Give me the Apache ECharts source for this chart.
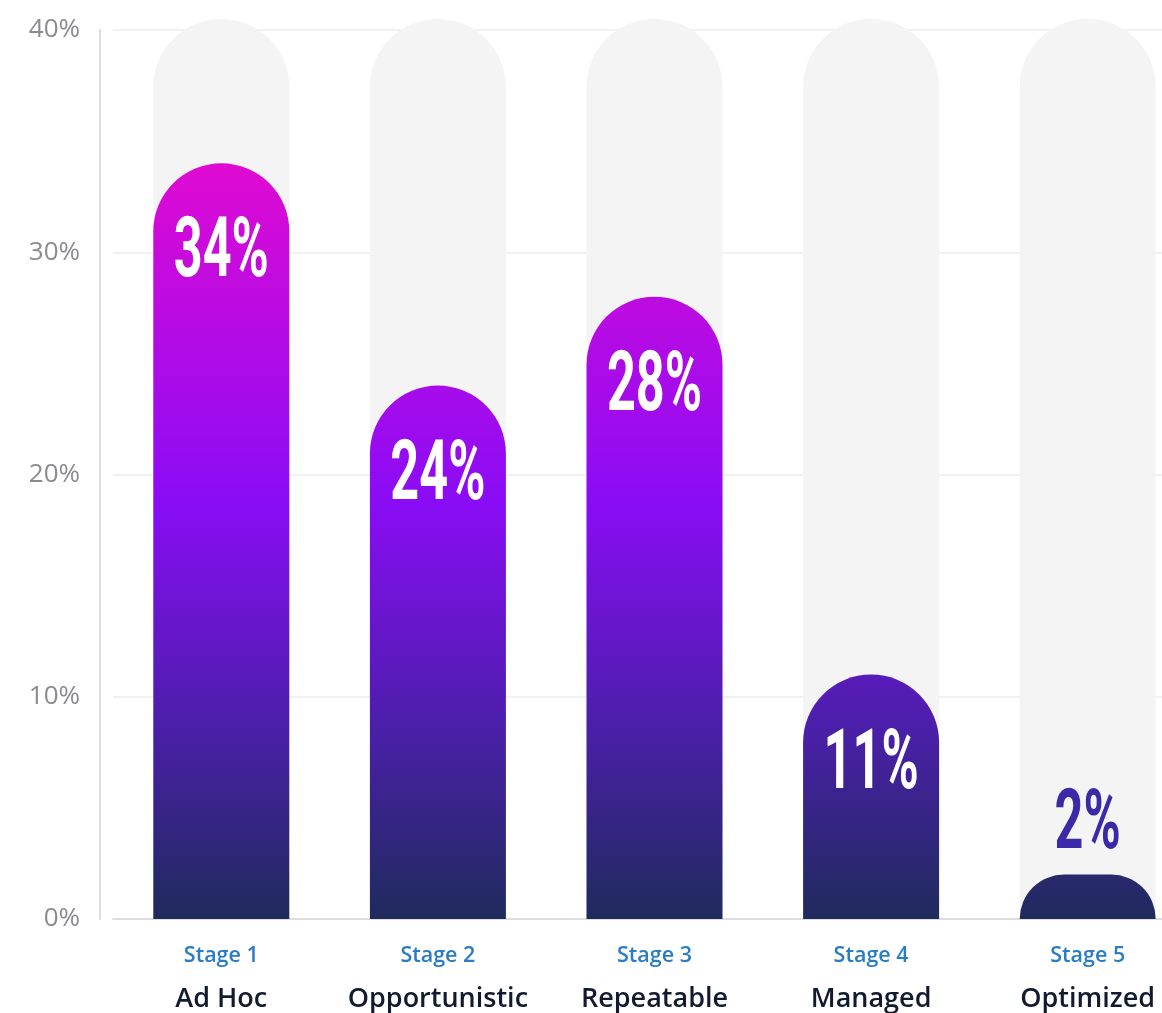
<!DOCTYPE html>
<html>
<head>
<meta charset="utf-8">
<script src="https://cdn.jsdelivr.net/npm/echarts@6/dist/echarts.min.js"></script>
<style>
    html, body { margin: 0; padding: 0; background: #ffffff; }
    #chart-container { width: 1162px; height: 1013px; }
</style>
</head>
<body>
<div id="chart-container"></div>
<script>
const stages = ["Stage 1", "Stage 2", "Stage 3", "Stage 4", "Stage 5"];
const stageNames = ["Ad Hoc", "Opportunistic", "Repeatable", "Managed", "Optimized"];
const shares = [34, 24, 28, 11, 2];
const trackValues = [40.5, 40.5, 40.5, 40.5, 40.5];
const yTicks = [0, 10, 20, 30, 40];

const chart = echarts.init(document.getElementById("chart-container"));

const barColor = new echarts.graphic.LinearGradient(0, 160, 0, 919, [
    { offset: 0, color: "#e00ad2" },
    { offset: 0.45, color: "#8a0cf5" },
    { offset: 0.75, color: "#4a1fa8" },
    { offset: 1, color: "#1f2b5c" }
], true);

// condensed value labels: a normal bold face squeezed horizontally
function renderValueLabel(params, api) {
    const v = api.value(1);
    const top = api.coord([api.value(0), v]);
    const outside = v < 5;
    return {
        type: "text",
        x: top[0],
        y: top[1] + (outside ? -48 : 92),
        scaleX: 0.6,
        style: {
            text: v + "%",
            fill: outside ? "#3a2aa8" : "#ffffff",
            font: "bold 84px Roboto",
            align: "center",
            verticalAlign: "middle"
        }
    };
}

chart.setOption({
    animation: false,
    grid: {
        left: 113,
        right: -34,
        top: 30,
        bottom: 94,
        outerBoundsMode: "none",
        containLabel: false
    },
    xAxis: {
        type: "category",
        data: stages.map((s, i) => s + "\n" + stageNames[i]),
        axisLine: { lineStyle: { color: "#dddddd", width: 2 } },
        axisTick: { show: false },
        axisLabel: {
            interval: 0,
            margin: 17,
            formatter: v => {
                const parts = v.split("\n");
                return "{s|" + parts[0] + "}\n{n|" + parts[1] + "}";
            },
            rich: {
                s: {
                    fontFamily: "Open Sans",
                    fontWeight: 600,
                    fontSize: 21.5,
                    color: "#2a7cc4",
                    lineHeight: 40
                },
                n: {
                    fontFamily: "Open Sans",
                    fontWeight: 600,
                    fontSize: 27,
                    color: "#111a2e",
                    lineHeight: 46
                }
            }
        }
    },
    yAxis: {
        type: "value",
        min: yTicks[0],
        max: yTicks[yTicks.length - 1],
        interval: 10,
        offset: 13,
        axisLine: { show: true, lineStyle: { color: "#dddddd", width: 2 } },
        axisTick: { show: false },
        axisLabel: {
            margin: 20,
            fontFamily: "Open Sans",
            fontSize: 26,
            color: "#8a8a90",
            formatter: "{value}%"
        },
        splitLine: { lineStyle: { color: "#f1f1f1", width: 2 } }
    },
    series: [
        {
            name: "Track",
            type: "bar",
            data: trackValues,
            barWidth: 136,
            clip: false,
            silent: true,
            itemStyle: {
                color: "#f4f4f4",
                borderRadius: [68, 68, 0, 0]
            },
            z: 1
        },
        {
            name: "Share",
            type: "bar",
            data: shares,
            barWidth: 136,
            barGap: "-100%",
            itemStyle: {
                color: barColor,
                borderRadius: [68, 68, 0, 0]
            },
            z: 2
        },
        {
            name: "Labels",
            type: "custom",
            data: shares.map((v, i) => [i, v]),
            renderItem: renderValueLabel,
            clip: false,
            silent: true,
            z: 3
        }
    ]
});
</script>
</body>
</html>
